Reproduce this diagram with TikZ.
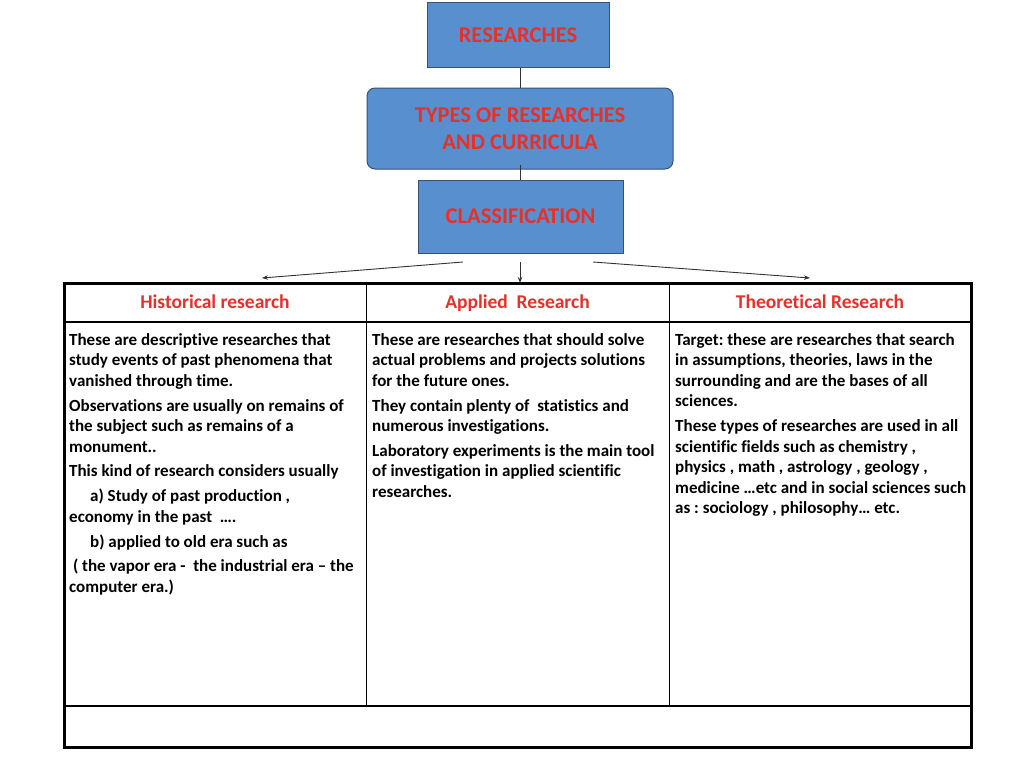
\documentclass[tikz,border=0pt]{standalone}
\usepackage{fontspec}
\setmainfont{Carlito}[Ligatures=NoCommon]
\usetikzlibrary{arrows.meta}
\frenchspacing
\definecolor{boxblue}{RGB}{88,143,206}
\definecolor{boxedge}{RGB}{56,80,120}
\definecolor{titlered}{RGB}{232,48,40}
\tikzset{
  bluebox/.style={draw=boxedge, line width=1pt, fill=boxblue, inner sep=0pt,
    font=\fontsize{22.5}{27}\selectfont\bfseries, text=titlered, align=center},
  conn/.style={draw=black!80, line width=0.9pt},
  arr/.style={conn, -{Stealth[length=6pt,width=4.5pt]}},
  head/.style={font=\fontsize{19.5}{22}\selectfont\bfseries, text=titlered,
    text height=14pt, text depth=4pt, inner sep=0pt},
  body/.style={font=\fontsize{17}{20.5}\selectfont\bfseries, align=left,
    anchor=north west, inner sep=0pt},
  thick border/.style={line width=3pt},
  thin rule/.style={line width=1pt}
}
\begin{document}
\begin{tikzpicture}[x=1pt,y=-1pt]
\useasboundingbox (0,0) rectangle (1024,768);
% top boxes
\node[bluebox, minimum width=182pt, minimum height=64pt] (res) at (518,35) {RESEARCHES};
\node[bluebox, rounded corners=8pt, minimum width=306pt, minimum height=81pt] (types) at (520,128.5) {TYPES OF RESEARCHES\\AND CURRICULA};
\node[bluebox, minimum width=205pt, minimum height=73pt] (cls) at (520.5,216.5) {CLASSIFICATION};
\draw[conn] (res.south -| 520,0) -- (types.north -| 520,0);
\draw[conn] (520,165) -- (cls.north -| 520,0);
% arrows
\coordinate (aL) at (463,262);
\coordinate (aM) at (520,262);
\coordinate (aR) at (593,262);
\coordinate (tL) at (262,278);
\coordinate (tM) at (520,283);
\coordinate (tR) at (810,278);
\draw[arr] (aL) -- (tL);
\draw[arr] (aM) -- (tM);
\draw[arr] (aR) -- (tR);
% table
\draw[thin rule] (366,283) -- (366,706);
\draw[thin rule] (669,283) -- (669,706);
\draw[line width=1.6pt] (64,322) -- (971,322);
\draw[line width=1.6pt] (64,706) -- (971,706);
\draw[thick border] (64,283) rectangle (971,747);
% headers
\node[head] (h1) at (215,303) {Historical research};
\node[head] (h2) at (517.5,303) {Applied\ \ Research};
\node[head] (h3) at (820,303) {Theoretical Research};
% bodies
\node[body] (b1) at (69,333) {These are descriptive researches that\\
study events of past phenomena that\\
vanished through time.\\[4.4pt]
Observations are usually on remains of\\
the subject such as remains of a\\
monument..\\[4.4pt]
This kind of research considers usually\\[4.3pt]
\hspace*{21pt}a) Study of past production ,\\
economy in the past\ \ ….\\[4.3pt]
\hspace*{21pt}b) applied to old era such as\\[4.3pt]
\ ( the vapor era -\ \ the industrial era – the\\
computer era.)};
\node[body] (b2) at (372,333) {These are researches that should solve\\
actual problems and projects solutions\\
for the future ones.\\[4.4pt]
They contain plenty of\ \ statistics and\\
numerous investigations.\\[4.4pt]
Laboratory experiments is the main tool\\
of investigation in applied scientific\\
researches.};
\node[body] (b3) at (675,333) {Target: these are researches that search\\
in assumptions, theories, laws in the\\
surrounding and are the bases of all\\
sciences.\\[4.4pt]
These types of researches are used in all\\
scientific fields such as chemistry ,\\
physics , math , astrology , geology ,\\
medicine …etc and in social sciences such\\
as : sociology , philosophy… etc.};
\end{tikzpicture}
\end{document}
